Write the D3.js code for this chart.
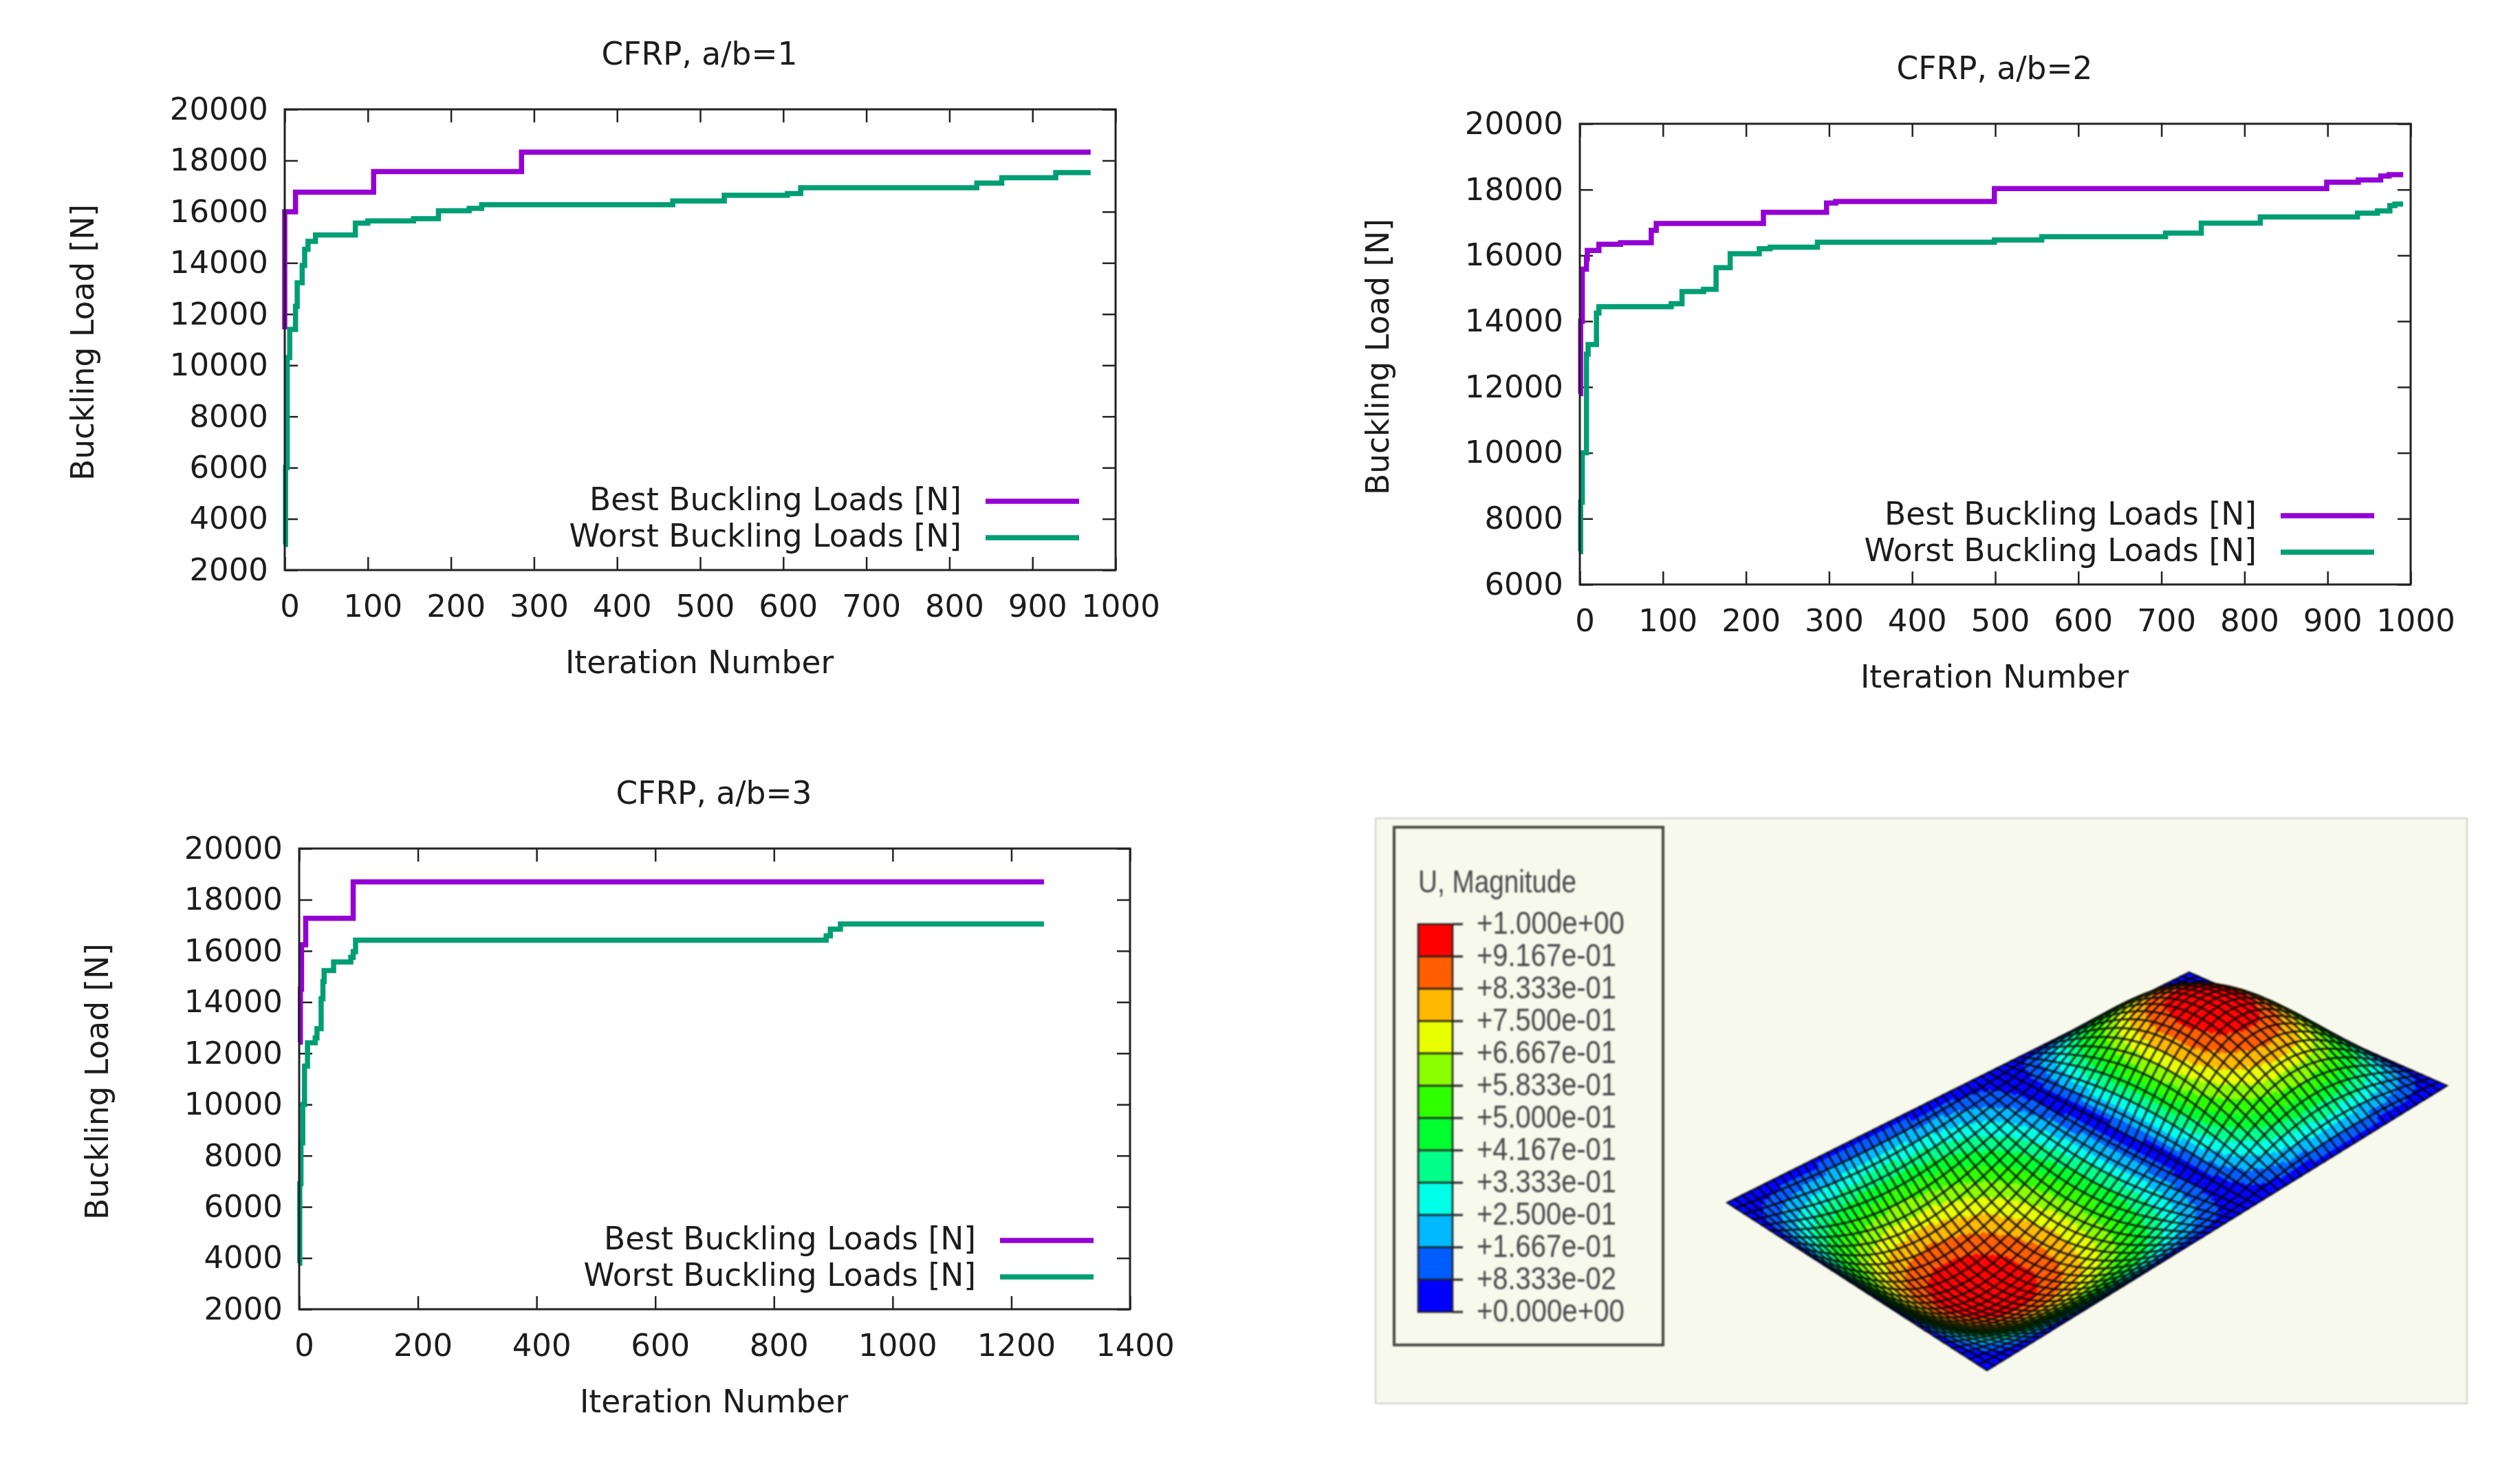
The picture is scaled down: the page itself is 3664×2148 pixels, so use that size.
<!DOCTYPE html>
<html>
<head>
<meta charset="utf-8">
<script src="https://cdn.jsdelivr.net/npm/d3@7"></script>
<style>
    html, body { margin: 0; padding: 0; background: #fff; }
    svg { display: block; }
    text { font-family: "DejaVu Sans", sans-serif; fill: #1c1c1c; }
    .fea text { font-family: "Liberation Sans", sans-serif; fill: #4a4a4a; }
</style>
</head>
<body>
<div id="chart"></div>
<script>
// chart 1, a/b=1
const iterBest1 = [0, 0, 13, 107, 285, 970];
const best1 = [11400, 16000, 16760, 17570, 18330, 18330];
const iterWorst1 = [0, 1, 3, 6, 13, 15, 21, 24, 28, 37, 85, 100, 155, 185, 222, 237, 467, 529, 605, 621, 833, 863, 928, 970];
const worst1 = [3000, 6000, 10300, 11400, 12300, 13220, 13900, 14530, 14840, 15090, 15555, 15640, 15730, 16040, 16130, 16270, 16417, 16640, 16710, 16940, 17120, 17330, 17530, 17530];

// chart 2, a/b=2
const iterBest2 = [0, 1, 3, 8, 9, 23, 49, 86, 92, 221, 297, 308, 499, 899, 937, 964, 974, 991];
const best2 = [11800, 14000, 15580, 15900, 16150, 16340, 16385, 16760, 16970, 17310, 17590, 17640, 18030, 18225, 18290, 18410, 18455, 18455];
const iterWorst2 = [0, 1, 3, 8, 10, 20, 23, 110, 123, 149, 164, 181, 216, 229, 286, 499, 556, 705, 748, 819, 936, 960, 975, 981, 991];
const worst2 = [7000, 8500, 10000, 13000, 13290, 14250, 14440, 14530, 14900, 14970, 15630, 16050, 16200, 16250, 16400, 16470, 16570, 16680, 16980, 17170, 17285, 17350, 17515, 17560, 17560];

// chart 3, a/b=3
const iterBest3 = [0, 2, 4, 11, 91, 1255];
const best3 = [12440, 14500, 16240, 17270, 18700, 18700];
const iterWorst3 = [0, 1, 3, 6, 9, 14, 27, 30, 37, 40, 42, 58, 87, 91, 95, 888, 895, 912, 1255];
const worst3 = [3800, 6900, 8500, 10000, 11500, 12410, 12600, 12960, 14130, 14800, 15230, 15570, 15750, 15970, 16420, 16590, 16850, 17050, 17050];

// ticks
const yTicks1 = [2000, 4000, 6000, 8000, 10000, 12000, 14000, 16000, 18000, 20000];
const yTicks2 = [6000, 8000, 10000, 12000, 14000, 16000, 18000, 20000];
const xTicks1000 = [0, 100, 200, 300, 400, 500, 600, 700, 800, 900, 1000];
const xTicks1400 = [0, 200, 400, 600, 800, 1000, 1200, 1400];

// contour legend of the FE panel, top to bottom
const bandColors = ["#ff0000", "#ff5d00", "#ffb900", "#e8ff00", "#8bff00", "#2eff00", "#00ff2e", "#00ff8b", "#00ffe8", "#00b9ff", "#005dff", "#0000ff"];
const bandLabels = ["+1.000e+00", "+9.167e-01", "+8.333e-01", "+7.500e-01", "+6.667e-01", "+5.833e-01", "+5.000e-01", "+4.167e-01", "+3.333e-01", "+2.500e-01", "+1.667e-01", "+8.333e-02", "+0.000e+00"];

const purple = "#9400d3", green = "#009e73";
const plotW = 1208, plotH = 670;

const svg = d3.select("#chart").append("svg")
    .attr("width", 3664)
    .attr("height", 2148)
    .attr("viewBox", "0 0 3664 2148");

function drawPlot(cfg) {
    let g = svg.append("g")
        .attr("transform", `translate(${cfg.left}, ${cfg.top})`)
        .style("filter", "blur(0.7px)");

    let x = d3.scaleLinear().domain([0, cfg.xMax]).range([0, plotW]);
    let y = d3.scaleLinear().domain([cfg.yMin, 20000]).range([plotH, 0]);

    // gnuplot style ticks: inward on all four sides
    let bottom = g.append("g").attr("transform", `translate(0, ${plotH})`)
        .call(d3.axisBottom(x).tickValues(cfg.xTicks).tickSizeInner(-19).tickSizeOuter(0).tickPadding(36).tickFormat(d3.format("d")));
    bottom.selectAll("text").attr("dx", 7);
    g.append("g").call(d3.axisTop(x).tickValues(cfg.xTicks).tickSizeInner(-19).tickSizeOuter(0).tickFormat(""));
    g.append("g")
        .call(d3.axisLeft(y).tickValues(cfg.yTicks).tickSizeInner(-19).tickSizeOuter(0).tickPadding(24).tickFormat(d3.format("d")));
    g.append("g").attr("transform", `translate(${plotW}, 0)`)
        .call(d3.axisRight(y).tickValues(cfg.yTicks).tickSizeInner(-19).tickSizeOuter(0).tickFormat(""));

    g.selectAll(".tick text").style("font-size", "45px").attr("font-family", null);
    g.selectAll(".tick line").attr("stroke", "#222").attr("stroke-width", 2.5);
    g.selectAll(".domain").attr("stroke", "none");

    let line = d3.line().curve(d3.curveStepAfter).x(d => x(d[0])).y(d => y(d[1]));
    [[cfg.iterWorst, cfg.worst, green], [cfg.iterBest, cfg.best, purple]].forEach(s => {
        g.append("path")
            .datum(s[0].map((v, i) => [v, s[1][i]]))
            .attr("fill", "none")
            .attr("stroke", s[2])
            .attr("stroke-width", 7.5)
            .attr("d", line);
    });

    // border goes over the curves
    g.append("rect").attr("width", plotW).attr("height", plotH)
        .attr("fill", "none").attr("stroke", "#222").attr("stroke-width", 3);

    g.append("text").attr("x", plotW / 2 - 1).attr("y", -81).attr("dy", "0.35em")
        .attr("text-anchor", "middle").style("font-size", "45.5px").text(cfg.title);
    g.append("text").attr("x", plotW / 2 - 1).attr("y", plotH + 134).attr("dy", "0.35em")
        .attr("text-anchor", "middle").style("font-size", "45.5px").text("Iteration Number");
    g.append("text")
        .attr("transform", `translate(-294, ${plotH / 2 + 4}) rotate(-90)`)
        .attr("dy", "0.35em").attr("text-anchor", "middle").style("font-size", "45.5px").text("Buckling Load [N]");

    // legend
    [["Best Buckling Loads [N]", purple, 570], ["Worst Buckling Loads [N]", green, 623]].forEach(l => {
        g.append("text").attr("x", 984).attr("y", l[2] - 3).attr("dy", "0.35em")
            .attr("text-anchor", "end").style("font-size", "45.5px").text(l[0]);
        g.append("line").attr("x1", 1019).attr("x2", 1155).attr("y1", l[2]).attr("y2", l[2])
            .attr("stroke", l[1]).attr("stroke-width", 7.5);
    });
}

drawPlot({left: 414, top: 159, title: "CFRP, a/b=1", xMax: 1000, yMin: 2000, xTicks: xTicks1000, yTicks: yTicks1,
    iterBest: iterBest1, best: best1, iterWorst: iterWorst1, worst: worst1});
drawPlot({left: 2297, top: 180, title: "CFRP, a/b=2", xMax: 1000, yMin: 6000, xTicks: xTicks1000, yTicks: yTicks2,
    iterBest: iterBest2, best: best2, iterWorst: iterWorst2, worst: worst2});
drawPlot({left: 435, top: 1234, title: "CFRP, a/b=3", xMax: 1400, yMin: 2000, xTicks: xTicks1400, yTicks: yTicks1,
    iterBest: iterBest3, best: best3, iterWorst: iterWorst3, worst: worst3});

/* FE panel */
function drawFea() {
    let fea = svg.append("g").attr("class", "fea").style("filter", "blur(0.8px)");
    fea.append("rect").attr("x", 2000).attr("y", 1190).attr("width", 1587).attr("height", 851)
        .attr("fill", "#f7f9ec").attr("stroke", "#cfcfcf").attr("stroke-width", 2);
    fea.append("rect").attr("x", 2027).attr("y", 1203).attr("width", 391).attr("height", 753)
        .attr("fill", "none").attr("stroke", "#4a4a44").attr("stroke-width", 4);

    fea.append("text").attr("x", 2062).attr("y", 1298).attr("textLength", 230).attr("lengthAdjust", "spacingAndGlyphs")
        .style("font-size", "47px").text("U, Magnitude");

    let barY = d3.scalePoint().domain(bandLabels).range([1344, 1908]);
    fea.selectAll(".band").data(bandColors).enter().append("rect")
        .attr("class", "band")
        .attr("x", 2062).attr("width", 50)
        .attr("y", (d, i) => barY(bandLabels[i]))
        .attr("height", barY.step())
        .attr("fill", d => d)
        .attr("stroke", "#222").attr("stroke-width", 2.5);
    fea.selectAll(".bandTick").data(bandLabels).enter().append("line")
        .attr("class", "bandTick")
        .attr("x1", 2112).attr("x2", 2127)
        .attr("y1", d => barY(d)).attr("y2", d => barY(d))
        .attr("stroke", "#222").attr("stroke-width", 3);
    fea.selectAll(".bandLabel").data(bandLabels).enter().append("text")
        .attr("class", "bandLabel")
        .attr("x", 2147).attr("y", d => barY(d) + 14)
        .attr("textLength", d => d.endsWith("+00") ? 215 : 203)
        .attr("lengthAdjust", "spacingAndGlyphs")
        .style("font-size", "47px")
        .text(d => d);

    // Plate surface. This is an illustration, not a read-off series: the mesh
    // has too many cells to read, so it uses the plate's mode shape and the
    // corners and lobe positions measured on the picture.
    const cornerL = [2511, 1749], cornerT = [3183, 1414], cornerB = [2889, 1993], cornerR = [3558, 1579];
    const liftLower = [-13, 120], liftUpper = [-14, -120];
    const nS = 60, nT = 30, sub = 3;
    const node = 0.58;      // the blue band sits past the middle of the plate

    let warp = s => s < node ? 0.5 * s / node : 0.5 + 0.5 * (s - node) / (1 - node);
    let shape = (s, t) => Math.sin(2 * Math.PI * warp(s)) * Math.sin(Math.PI * t);
    let point = (s, t) => {
        let w = shape(s, t), lift = w > 0 ? liftLower : liftUpper, a = Math.abs(w);
        return d3.range(2).map(k =>
            (1 - s) * (1 - t) * cornerL[k] + s * (1 - t) * cornerT[k] + (1 - s) * t * cornerB[k] + s * t * cornerR[k] + a * lift[k]);
    };
    let color = d3.scaleQuantize().domain([0, 1]).range(bandColors.slice().reverse());
    let level = (s, t) => Math.pow(Math.abs(shape(s, t)), 0.8);
    let sScale = d3.scaleLinear().domain([0, nS]).range([0, 1]);
    let tScale = d3.scaleLinear().domain([0, nT]).range([0, 1]);
    let poly = d3.line();
    let surface = svg.append("g").style("filter", "blur(1.1px)");

    function drawCell(i, j) {
        let sSub = d3.scaleLinear().domain([0, sub]).range([sScale(i), sScale(i + 1)]);
        let tSub = d3.scaleLinear().domain([0, sub]).range([tScale(j), tScale(j + 1)]);
        let parts = d3.cross(d3.range(sub), d3.range(sub));
        let cell = surface.append("g");
        cell.selectAll("path").data(parts).enter().append("path")
            .attr("d", p => poly([point(sSub(p[0]), tSub(p[1])), point(sSub(p[0] + 1), tSub(p[1])),
                point(sSub(p[0] + 1), tSub(p[1] + 1)), point(sSub(p[0]), tSub(p[1] + 1))]) + "Z")
            .attr("fill", p => color(level(sSub(p[0] + 0.5), tSub(p[1] + 0.5))))
            .attr("stroke", p => color(level(sSub(p[0] + 0.5), tSub(p[1] + 0.5))))
            .attr("stroke-width", 0.6);
        // cell outline follows the curved surface
        let edge = d3.range(sub + 1);
        let outline = edge.map(m => point(sSub(m), tSub(0)))
            .concat(edge.map(m => point(sSub(sub), tSub(m))))
            .concat(edge.map(m => point(sSub(sub - m), tSub(sub))))
            .concat(edge.map(m => point(sSub(0), tSub(sub - m))));
        cell.append("path").attr("d", poly(outline) + "Z")
            .attr("fill", "none").attr("stroke", "#000").attr("stroke-opacity", 0.8).attr("stroke-width", 2.5);
    }

    // far cells first, so the lobes cover what lies behind them
    let rows = d3.range(nS), cols = d3.range(nT);
    rows.filter(i => sScale(i) < node).forEach(i => cols.slice().reverse().forEach(j => drawCell(i, j)));
    rows.filter(i => sScale(i) >= node).reverse().forEach(i => cols.forEach(j => drawCell(i, j)));
}
drawFea();
</script>
</body>
</html>
